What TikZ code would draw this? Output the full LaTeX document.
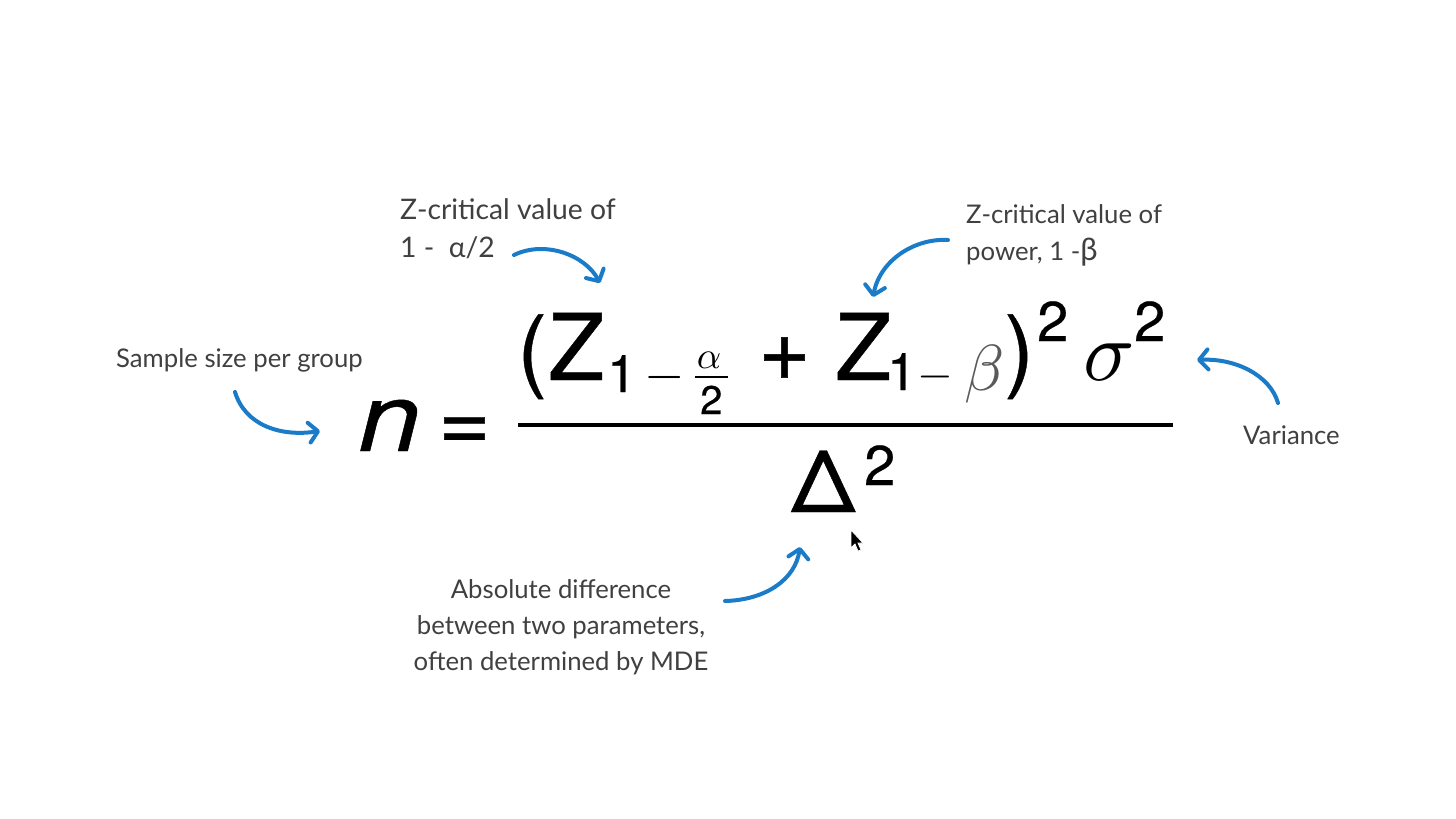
\documentclass[tikz,border=0pt]{standalone}
\usepackage{fontspec}
\setmainfont{Lato}
\newfontfamily\heros{TeX Gyre Heros}[FakeBold=0.45]
\usetikzlibrary{arrows.meta}
\definecolor{arrowblue}{HTML}{1A7CC9}
\definecolor{labelgray}{HTML}{404040}
\definecolor{betagray}{HTML}{5A5A5A}
\tikzset{
  lbl/.style={inner sep=0pt, anchor=base west, text=labelgray, font=\fontsize{25.7}{36}\selectfont},
  glyph/.style={inner sep=0pt, anchor=base west, font=\heros\fontsize{#1}{#1}\selectfont},
  iglyph/.style={inner sep=0pt, anchor=base west, font=\heros\itshape\fontsize{#1}{#1}\selectfont},
  mglyph/.style={inner sep=0pt, anchor=base west, scale=#1},
  callout/.style={draw=arrowblue, line width=4pt, line cap=round, line join=round,
    -{Straight Barb[round,length=9pt,width=20pt]}},
}
\begin{document}
\begin{tikzpicture}[x=1pt,y=-1pt]
\useasboundingbox[fill=white] (0,0) rectangle (1456,819);

% ---- formula ----
\node[iglyph=95, xscale=1.18] (n) at (358,451) {n};
\node[glyph=90] (eq) at (438,451) {=};
\node[glyph=90] (lp) at (517,380) {(};
\node[glyph=92] (z1) at (548,380) {Z};
\node[glyph=52] (s1) at (607,392) {1};
\node[mglyph=5.2] (m1) at (643,390) {$-$};
\node[mglyph=3.8] (al) at (696,368) {$\alpha$};
\draw[line width=2.5pt] (695,377) -- (728,377);
\node[glyph=40] (two) at (700,414) {2};
\node[glyph=90] (plus) at (758,380) {+};
\node[glyph=92] (z2) at (835,380) {Z};
\node[glyph=52] (s2) at (887,390) {1};
\node[mglyph=4.6] (m2) at (917,388) {$-$};
\node[mglyph=6.5, text=betagray] (be) at (963,390) {$\beta$};
\node[glyph=90] (rp) at (1004,380) {)};
\node[glyph=56] (p1) at (1037,341) {2};
\node[mglyph=8.5] (si) at (1082,380) {$\sigma$};
\node[glyph=56] (p2) at (1134,341) {2};
\draw[line width=4pt] (518,425) -- (1173,425);
\node[glyph=86, xscale=1.05] (de) at (791,512) {Δ};
\node[glyph=56] (p3) at (864,485) {2};

% ---- labels ----
\node[lbl, font=\fontsize{28.3}{36}\selectfont] (lz1) at (400,219) {Z-critical value of};
\node[lbl, font=\fontsize{28.3}{36}\selectfont] (lz1b) at (400,257) {1 -\ \ α/2};
\node[lbl] (lz2) at (966,223) {Z-critical value of};
\node[lbl] (lz2b) at (966,260) {power, 1 -{\fontsize{31}{31}\selectfont β}};
\node[lbl] (lss) at (116,367) {Sample size per group};
\node[lbl] (lva) at (1243,444) {Variance};
\node[lbl, anchor=north, align=center] (lab) at (561,579) {Absolute difference\\between two parameters,\\often determined by MDE};

% ---- callout arrows ----
\coordinate (a1s) at (235,392); \coordinate (a1e) at (320,431);
\coordinate (a2s) at (514,255); \coordinate (a2e) at (600,283);
\coordinate (a3s) at (948,240); \coordinate (a3e) at (873,297);
\coordinate (a4s) at (1278,403); \coordinate (a4e) at (1197,360);
\coordinate (a5s) at (725,601); \coordinate (a5e) at (800,547);
\draw[callout] (a1s) .. controls (245,425) and (280,437) .. (a1e);
\draw[callout] (a2s) .. controls (545,240) and (585,255) .. (a2e);
\draw[callout] (a3s) .. controls (915,238) and (880,260) .. (a3e);
\draw[callout] (a4s) .. controls (1270,375) and (1235,358) .. (a4e);
\draw[callout] (a5s) .. controls (765,600) and (795,580) .. (a5e);

% ---- mouse pointer ----
\fill[black, draw=white, line width=0.8pt] (851,530) -- (851,548) -- (855,544) -- (858,551) -- (861,550) -- (858,543) -- (863,543) -- cycle;
\end{tikzpicture}
\end{document}
